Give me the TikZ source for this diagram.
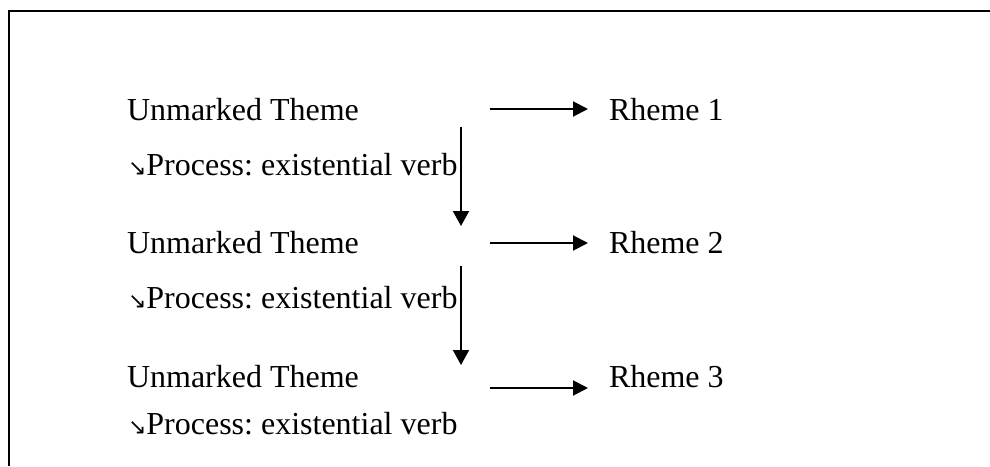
\documentclass[tikz,border=0pt]{standalone}
\usepackage{fontspec}
\setmainfont{Liberation Serif}
\newfontfamily\arrowfont{DejaVu Sans}
\usetikzlibrary{arrows.meta}
\frenchspacing

\newcommand{\sedir}{{\arrowfont\fontsize{11}{12}\selectfont ↘}}

\begin{document}
\begin{tikzpicture}[x=0.5pt, y=-0.5pt, line width=1pt]
		\useasboundingbox (0,0) rectangle (990,466);
		
		% frame, runs off the page at right and bottom
		\draw [line width=1.1pt] (9,466) -- (9,11) -- (990,11);
		
		\begin{scope}[every node/.style={anchor=base west, inner sep=0pt, font=\fontsize{16}{19}\selectfont}]
		\node (th1) at (126,120) {Unmarked Theme};
		\node (pr1) at (127,175) {\sedir Process: existential verb};
		\node (th2) at (126,253) {Unmarked Theme};
		\node (pr2) at (127,308) {\sedir Process: existential verb};
		\node (th3) at (126,387) {Unmarked Theme};
		\node (pr3) at (127,434) {\sedir Process: existential verb};
		
		\node (rh1) at (608,120) {Rheme 1};
		\node (rh2) at (608,253) {Rheme 2};
		\node (rh3) at (608,387) {Rheme 3};
		\end{scope}
		
		\coordinate (h1) at (490,109);
		\coordinate (h2) at (490,243);
		\coordinate (h3) at (490,388);
		\coordinate (v1) at (461,127);
		\coordinate (w1) at (461,226);
		\coordinate (v2) at (461,266);
		\coordinate (w2) at (461,365);
		
		\begin{scope}[>={Triangle[length=7.5pt, width=7.5pt]}, shorten >=10pt]
		\draw [->] (h1) -- (h1 -| rh1.west);
		\draw [->] (h2) -- (h2 -| rh2.west);
		\draw [->] (h3) -- (h3 -| rh3.west);
		\end{scope}
		
		\begin{scope}[>={Triangle[length=7.5pt, width=8pt]}]
		\draw [->] (v1) -- (w1);
		\draw [->] (v2) -- (w2);
		\end{scope}
		
\end{tikzpicture}
\end{document}
